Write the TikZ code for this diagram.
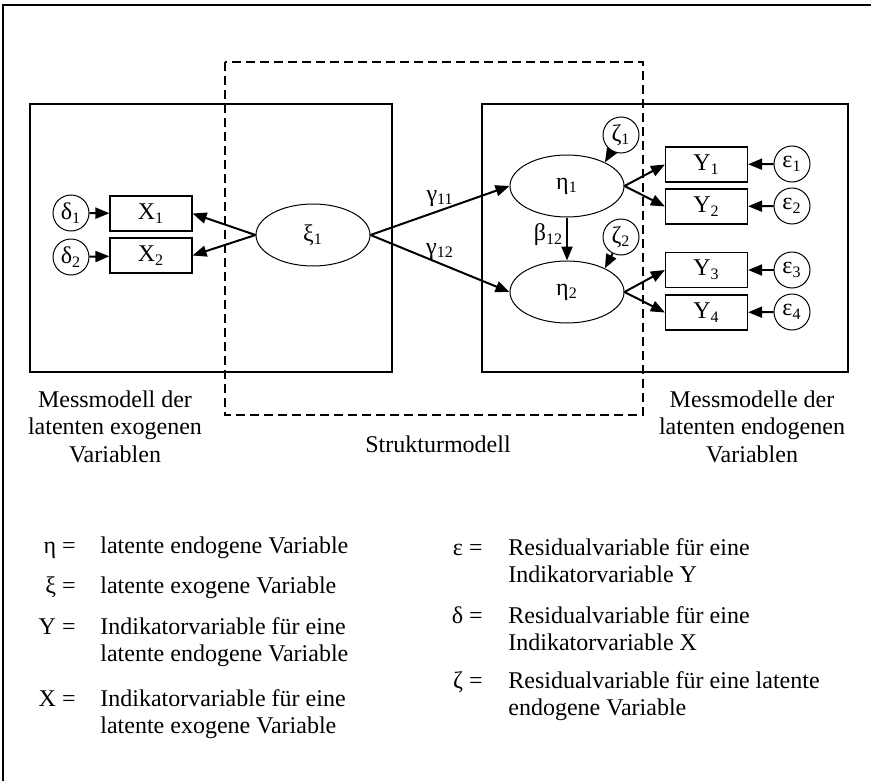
\documentclass[tikz,border=0pt]{standalone}
\usepackage{fontspec}
\setmainfont{Liberation Serif}
\usetikzlibrary{positioning,arrows.meta,shapes.geometric}
\tikzset{
  fig/.style={font=\fontsize{12}{13.75}\selectfont},
  ind/.style={draw,line width=0.6pt,minimum width=41pt,minimum height=17.5pt,inner sep=0pt},
  lat/.style={draw,ellipse,line width=0.5pt,minimum width=57pt,minimum height=31pt,inner sep=0pt},
  res/.style={draw,circle,line width=0.5pt,minimum size=18pt,inner sep=0pt},
  ln/.style={-{Triangle[length=7pt,width=5.5pt]},line width=1pt},
  lbl/.style={inner sep=1.5pt},
  frm/.style={line width=1pt},
  dsh/.style={line width=0.8pt,dash pattern=on 4.5pt off 2.5pt},
}

\begin{document}
\begin{tikzpicture}[fig,x=0.5pt,y=-0.5pt,
  sym/.style={anchor=base east,inner sep=0pt},
  txt/.style={anchor=base west,inner sep=0pt,align=left},
  capt/.style={anchor=base,inner sep=0pt,align=center}]

\useasboundingbox (0,0) rectangle (871,781);
\draw[line width=0.6pt] (3,781) -- (3,5) -- (871,5);

\draw[frm] (30,104) rectangle (392,372);
\draw[frm] (482,104) rectangle (848,372);
\draw[dsh] (225,62) rectangle (643,415);

\node[ind] (x1) at (151,213.5) {X\textsubscript{1}};
\node[ind] (x2) at (151,255.5) {X\textsubscript{2}};
\node[res] (d1) at (71,213) {δ\textsubscript{1}};
\node[res] (d2) at (71,257) {δ\textsubscript{2}};
\node[lat] (xi) at (313,235) {ξ\textsubscript{1}};

\node[lat] (eta1) at (567,186) {η\textsubscript{1}};
\node[lat] (eta2) at (567,292) {η\textsubscript{2}};
\node[res] (z1) at (621,135) {ζ\textsubscript{1}};
\node[res] (z2) at (621,237) {ζ\textsubscript{2}};

\node[ind] (y1) at (706.5,164.5) {Y\textsubscript{1}};
\node[ind] (y2) at (706.5,206.5) {Y\textsubscript{2}};
\node[ind] (y3) at (706.5,270) {Y\textsubscript{3}};
\node[ind] (y4) at (706.5,312.5) {Y\textsubscript{4}};
\node[res] (e1) at (792,164) {ε\textsubscript{1}};
\node[res] (e2) at (792,206) {ε\textsubscript{2}};
\node[res] (e3) at (792,270) {ε\textsubscript{3}};
\node[res] (e4) at (792,312) {ε\textsubscript{4}};

\draw[ln] (d1) -- (x1);
\draw[ln] (d2) -- (x2);
\draw[ln] (xi.west) -- (x1.east);
\draw[ln] (xi.west) -- (x2.east);
\draw[ln] (xi.east) -- (eta1.west) node[lbl,midway,above]{γ\textsubscript{11}};
\draw[ln] (xi.east) -- (eta2.west) node[lbl,midway,above]{γ\textsubscript{12}};
\draw[ln] (eta1) -- (eta2) node[lbl,pos=0.4,left]{β\textsubscript{12}};
\draw[ln] (z1) -- (eta1.32);
\draw[ln] (z2) -- (eta2.32);
\draw[ln] (eta1.east) -- (y1.west);
\draw[ln] (eta1.east) -- (y2.west);
\draw[ln] (eta2.east) -- (y3.west);
\draw[ln] (eta2.east) -- (y4.west);
\draw[ln] (e1) -- (y1);
\draw[ln] (e2) -- (y2);
\draw[ln] (e3) -- (y3);
\draw[ln] (e4) -- (y4);

\node[capt] (cexo) at (115,462) {Messmodell der\\latenten exogenen\\Variablen};
\node[capt] (cstr) at (438,452) {Strukturmodell};
\node[capt] (cendo) at (752,462) {Messmodelle der\\latenten endogenen\\Variablen};

\node[sym] (s-eta) at (76,553) {η =};
\node[txt] (t-eta) at (100,553) {latente endogene Variable};
\node[sym] (s-xi) at (76,593) {ξ =};
\node[txt] (t-xi) at (100,593) {latente exogene Variable};
\node[sym] (s-y) at (76,634) {Y =};
\node[txt] (t-y) at (100,661.5) {Indikatorvariable für eine\\latente endogene Variable};
\node[sym] (s-x) at (76,706) {X =};
\node[txt] (t-x) at (100,733.5) {Indikatorvariable für eine\\latente exogene Variable};

\node[sym] (s-eps) at (483,555) {ε =};
\node[txt] (t-eps) at (508,582.5) {Residualvariable für eine\\Indikatorvariable Y};
\node[sym] (s-del) at (483,623) {δ =};
\node[txt] (t-del) at (508,650.5) {Residualvariable für eine\\Indikatorvariable X};
\node[sym] (s-zeta) at (483,688) {ζ =};
\node[txt] (t-zeta) at (508,715.5) {Residualvariable für eine latente\\endogene Variable};

\end{tikzpicture}
\end{document}
